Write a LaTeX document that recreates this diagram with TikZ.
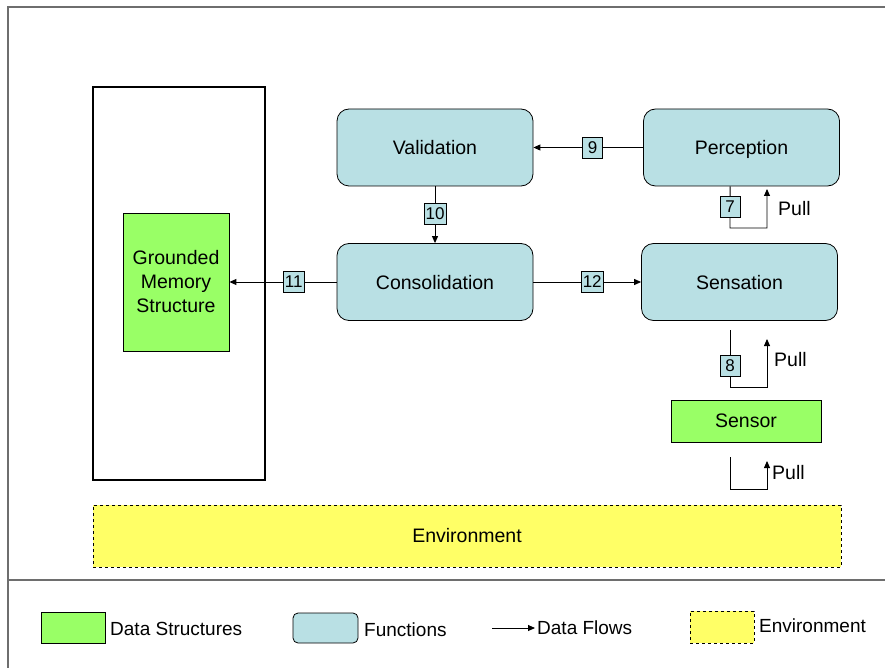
\documentclass[tikz,border=0pt]{standalone}
\usepackage{fontspec}
\setmainfont{Liberation Sans}
\usetikzlibrary{arrows.meta,calc}
\definecolor{fnblue}{RGB}{185,224,228}
\definecolor{dsgreen}{RGB}{153,255,102}
\definecolor{envyellow}{RGB}{255,255,102}
\definecolor{framegray}{RGB}{110,110,110}
\tikzset{
  fnbox/.style={draw=black, line width=0.8pt, fill=fnblue, rounded corners=12pt, minimum width=196pt, minimum height=77pt, text height=14pt, text depth=0pt, font=\fontsize{19.5}{23}\selectfont},
  dsbox/.style={draw=black, line width=0.8pt, fill=dsgreen, font=\fontsize{19.5}{24}\selectfont, align=center},
  numbox/.style={draw=black, line width=0.8pt, fill=fnblue, inner sep=1.5pt, minimum height=21pt, minimum width=20pt, font=\fontsize{17}{19}\selectfont},
  flow/.style={line width=0.9pt, -{Triangle[length=7pt,width=6pt]}},
  pulltxt/.style={font=\fontsize{19.5}{22}\selectfont, anchor=west, inner sep=0pt},
  legtxt/.style={font=\fontsize{19}{22}\selectfont, anchor=west, inner sep=0pt},
}
\begin{document}
\begin{tikzpicture}[x=1pt,y=-1pt]
\useasboundingbox (0,0) rectangle (885,668);
% frame
\draw[framegray, line width=1.3pt] (8,668) -- (8,7) -- (885,7);
\draw[framegray, line width=1.6pt] (8,580) -- (885,580);
% big box
\node[draw=black, line width=2.6pt, minimum width=172pt, minimum height=393pt, inner sep=0pt] (mem) at (179,283.5) {};
\node[dsbox, minimum width=106pt, minimum height=138pt] (gms) at (176,282) {Grounded\\Memory\\Structure};
% functions
\node[fnbox] (val) at (435,147.5) {Validation};
\node[fnbox] (perc) at (741.5,147.5) {Perception};
\node[fnbox] (cons) at (435,282) {Consolidation};
\node[fnbox] (sens) at (739.5,282) {Sensation};
\node[dsbox, minimum width=150pt, minimum height=42pt] (sensor) at (746,421) {Sensor};
\node[draw=black, dashed, line width=0.8pt, fill=envyellow, minimum width=748pt, minimum height=62pt, font=\fontsize{19.5}{22}\selectfont] (env) at (467,536) {Environment};
% flows
\draw[flow] (perc.west) -- node[numbox, pos=0.46] (n9) {9} (val.east);
\draw[flow] (val.south) -- node[numbox, pos=0.48] (n10) {10} (cons.north);
\draw[flow] (cons.west) -- node[numbox, pos=0.4] (n11) {11} (gms.east);
\draw[flow] (cons.east) -- node[numbox, pos=0.546] (n12) {12} (sens.west);
% pull loops
\coordinate (p7a) at ($(perc.south west)+(87,0)$);
\coordinate (p7b) at (730,228);
\coordinate (p7c) at (767,228);
\coordinate (p7d) at (767,189);
\draw[flow] (p7a) -- (p7b) -- (p7c) -- (p7d);
\node[numbox] (n7) at (730,207) {7};
\node[pulltxt] (pull7) at (778,209) {Pull};
\coordinate (p8a) at (730,330);
\coordinate (p8b) at (730,387);
\coordinate (p8c) at (767,387);
\coordinate (p8d) at (767,339);
\draw[flow] (p8a) -- (p8b) -- (p8c) -- (p8d);
\node[numbox] (n8) at (730,366) {8};
\node[pulltxt] (pull8) at (774,360) {Pull};
\coordinate (p9a) at (730,457);
\coordinate (p9b) at (730,489);
\coordinate (p9c) at (767,489);
\coordinate (p9d) at (767,461);
\draw[flow] (p9a) -- (p9b) -- (p9c) -- (p9d);
\node[pulltxt] (pulls) at (772,473) {Pull};
% legend
\node[draw=black, line width=0.8pt, fill=dsgreen, minimum width=64pt, minimum height=31pt, inner sep=0pt] (lg1) at (73,627.5) {};
\node[legtxt] (lt1) at (110,629) {Data Structures};
\node[draw=black, line width=0.8pt, fill=fnblue, rounded corners=5pt, minimum width=65pt, minimum height=30pt, inner sep=0pt] (lg2) at (325.5,628) {};
\node[legtxt] (lt2) at (364,630) {Functions};
\coordinate (la) at (492,628);
\node[legtxt] (lt3) at (537,628) {Data Flows};
\draw[flow, shorten >=2pt] (la) -- (lt3.west);
\node[draw=black, dashed, line width=0.8pt, fill=envyellow, minimum width=64pt, minimum height=32pt, inner sep=0pt] (lg4) at (722,627) {};
\node[legtxt] (lt4) at (759,626) {Environment};
\end{tikzpicture}
\end{document}
